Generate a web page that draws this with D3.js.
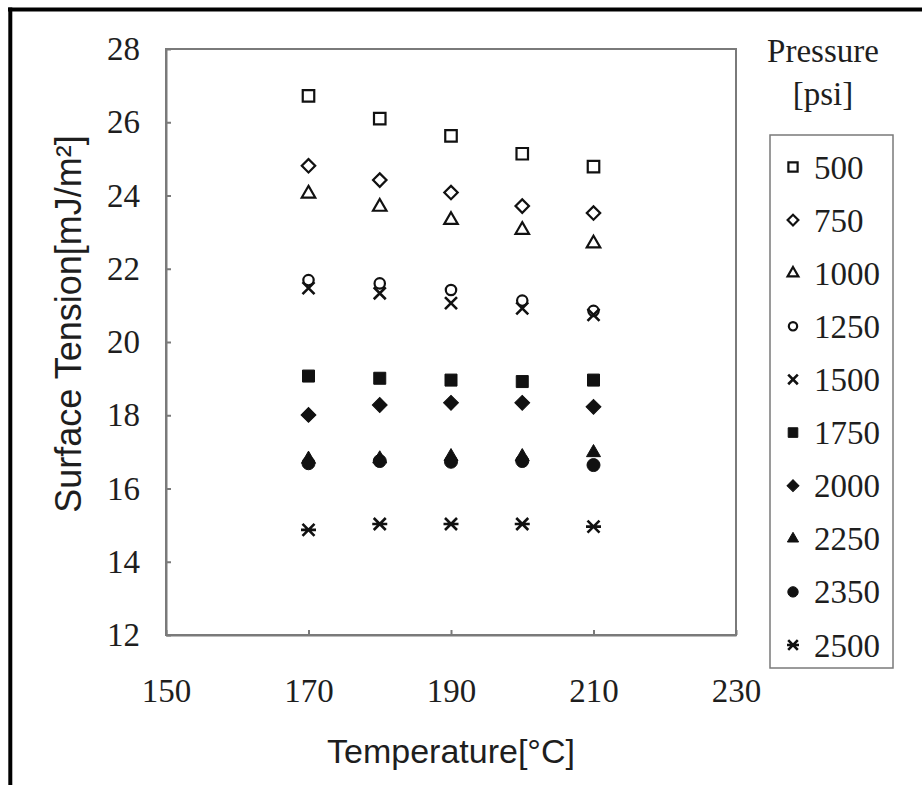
<!DOCTYPE html>
<html>
<head>
<meta charset="utf-8">
<script src="https://cdn.jsdelivr.net/npm/d3@7"></script>
<style>
	body { margin: 0; background: #fff; }
	svg { display: block; }
</style>
</head>
<body>
<script>
"use strict";

// Data
let temperatures = [170, 180, 190, 200, 210];
let pressures = [500, 750, 1000, 1250, 1500, 1750, 2000, 2250, 2350, 2500];

let tension500  = [26.72, 26.10, 25.63, 25.14, 24.79];
let tension750  = [24.81, 24.42, 24.08, 23.71, 23.52];
let tension1000 = [24.05, 23.69, 23.33, 23.06, 22.69];
let tension1250 = [21.69, 21.60, 21.42, 21.13, 20.85];
let tension1500 = [21.47, 21.33, 21.06, 20.92, 20.74];
let tension1750 = [19.07, 19.01, 18.96, 18.92, 18.96];
let tension2000 = [18.01, 18.28, 18.34, 18.34, 18.23];
let tension2250 = [16.80, 16.81, 16.87, 16.87, 16.98];
let tension2350 = [16.69, 16.75, 16.73, 16.75, 16.64];
let tension2500 = [14.87, 15.03, 15.03, 15.03, 14.96];

let xTicks = [150, 170, 190, 210, 230];
let yTicks = [12, 14, 16, 18, 20, 22, 24, 26, 28];

let markerKinds = ["square", "diamond", "triangle", "circle", "x",
	"squareFill", "diamondFill", "triangleFill", "circleFill", "star"];

let allTensions = [tension500, tension750, tension1000, tension1250, tension1500,
	tension1750, tension2000, tension2250, tension2350, tension2500];

let series = pressures.map(function (p, i) {
	return {
		pressure: p,
		kind: markerKinds[i],
		points: temperatures.map(function (t, j) { return {t: t, v: allTensions[i][j]}; })
	};
});

let width = 922, height = 785;
let plot = {left: 166, top: 49, right: 736, bottom: 635};

let svg = d3.select("body").append("svg")
	.attr("width", width)
	.attr("height", height);

svg.append("rect").attr("width", width).attr("height", height).attr("fill", "#fff");

// outer frame (only top and left show in the cropped figure)
svg.append("line").attr("x1", 8).attr("x2", width).attr("y1", 9.5).attr("y2", 9.5)
	.attr("stroke", "#000").attr("stroke-width", 4);
svg.append("line").attr("x1", 10.3).attr("x2", 10.3).attr("y1", 7.5).attr("y2", height)
	.attr("stroke", "#000").attr("stroke-width", 4);

let xScale = d3.scaleLinear().domain([150, 230]).range([plot.left, plot.right]);
let yScale = d3.scaleLinear().domain([12, 28]).range([plot.bottom, plot.top]);

let axisColor = "#7a7a7a";
let textColor = "#1e1e1e";
let serif = "'Liberation Serif', 'Times New Roman', serif";
let sans = "'Liberation Sans', Arial, sans-serif";

// plot frame
svg.append("rect")
	.attr("x", plot.left).attr("y", plot.top)
	.attr("width", plot.right - plot.left).attr("height", plot.bottom - plot.top)
	.attr("fill", "none").attr("stroke", axisColor).attr("stroke-width", 2);

let yAxis = svg.append("g")
	.attr("transform", "translate(" + plot.left + ",0)")
	.call(d3.axisLeft(yScale).tickValues(yTicks).tickSizeInner(-5).tickSizeOuter(0).tickPadding(26));

let xAxis = svg.append("g")
	.attr("transform", "translate(0," + plot.bottom + ")")
	.call(d3.axisBottom(xScale).tickValues(xTicks).tickSizeInner(-5).tickSizeOuter(0).tickPadding(44));

[xAxis, yAxis].forEach(function (ax) {
	ax.attr("font-family", serif);
	ax.select(".domain").attr("stroke", axisColor).attr("stroke-width", 2);
	ax.selectAll(".tick line").attr("stroke", axisColor).attr("stroke-width", 2);
	ax.selectAll(".tick text")
		.attr("fill", textColor)
		.style("font-family", serif)
		.style("font-size", "33px");
});
xAxis.selectAll(".tick text").attr("dy", "0.71em");

// axis titles
svg.append("text")
	.attr("x", 451).attr("y", 763)
	.attr("text-anchor", "middle")
	.style("font-family", sans).style("font-size", "34px").attr("fill", textColor)
	.text("Temperature[°C]");

svg.append("text")
	.attr("transform", "translate(81,324) rotate(-90)")
	.attr("text-anchor", "middle")
	.style("font-family", sans).style("font-size", "36px").attr("fill", textColor)
	.text("Surface Tension[mJ/m²]");

// marker drawing
function drawMarker(g, kind, s) {
	let sq = d3.symbol().type(d3.symbolSquare);
	let tri = d3.symbol().type(d3.symbolTriangle);
	let circ = d3.symbol().type(d3.symbolCircle);
	let hollow = {fill: "#fff", stroke: "#111", sw: 2.2};
	let filled = {fill: "#111", stroke: "#111", sw: 1};

	function style(sel, st) {
		return sel.attr("fill", st.fill).attr("stroke", st.stroke).attr("stroke-width", st.sw);
	}

	if (kind === "square") {
		style(g.append("path").attr("d", sq.size(Math.pow(11.5 * s, 2))()), hollow);
	} else if (kind === "squareFill") {
		style(g.append("path").attr("d", sq.size(Math.pow(12 * s, 2))()), filled);
	} else if (kind === "diamond") {
		style(g.append("path").attr("d", sq.size(Math.pow(9.5 * s, 2))()).attr("transform", "rotate(45)"), hollow);
	} else if (kind === "diamondFill") {
		style(g.append("path").attr("d", sq.size(Math.pow(10.5 * s, 2))()).attr("transform", "rotate(45)"), filled);
	} else if (kind === "triangle") {
		style(g.append("path").attr("d", tri.size(Math.sqrt(3) / 4 * Math.pow(13.5 * s, 2))()), hollow);
	} else if (kind === "triangleFill") {
		style(g.append("path").attr("d", tri.size(Math.sqrt(3) / 4 * Math.pow(14 * s, 2))()), filled);
	} else if (kind === "circle") {
		style(g.append("path").attr("d", circ.size(Math.PI * Math.pow(5.2 * s, 2))()), hollow);
	} else if (kind === "circleFill") {
		style(g.append("path").attr("d", circ.size(Math.PI * Math.pow(6.5 * s, 2))()), filled);
	} else if (kind === "x") {
		let a = 6 * s;
		g.append("path")
			.attr("d", "M" + -a + "," + -a + "L" + a + "," + a + "M" + -a + "," + a + "L" + a + "," + -a)
			.attr("stroke", "#111").attr("stroke-width", 2.6).attr("fill", "none");
	} else if (kind === "star") {
		let a = 6 * s, h = 7.5 * s;
		g.append("path")
			.attr("d", "M" + -a + "," + -a + "L" + a + "," + a + "M" + -a + "," + a + "L" + a + "," + -a +
				"M" + -h + ",0L" + h + ",0")
			.attr("stroke", "#111").attr("stroke-width", 2.6).attr("fill", "none");
	}
}

// points
let seriesGroups = svg.selectAll(".series")
	.data(series)
	.enter()
	.append("g")
	.attr("class", "series");

seriesGroups.each(function (d) {
	let grp = d3.select(this);
	grp.selectAll(".pt")
		.data(d.points)
		.enter()
		.append("g")
		.attr("class", "pt")
		.attr("transform", function (p) { return "translate(" + xScale(p.t) + "," + yScale(p.v) + ")"; })
		.each(function () { drawMarker(d3.select(this), d.kind, 1); });
});

// legend
let legend = svg.append("g").attr("class", "legend");

legend.append("text")
	.attr("x", 823).attr("y", 62).attr("text-anchor", "middle")
	.style("font-family", serif).style("font-size", "33px").attr("fill", textColor)
	.text("Pressure");
legend.append("text")
	.attr("x", 823).attr("y", 105).attr("text-anchor", "middle")
	.style("font-family", serif).style("font-size", "33px").attr("fill", textColor)
	.text("[psi]");

legend.append("rect")
	.attr("x", 770).attr("y", 135).attr("width", 123).attr("height", 533)
	.attr("fill", "#fff").attr("stroke", axisColor).attr("stroke-width", 1.5);

let legendY = d3.scaleLinear().domain([0, pressures.length - 1]).range([167, 645]);

let items = legend.selectAll(".item")
	.data(series)
	.enter()
	.append("g")
	.attr("class", "item")
	.attr("transform", function (d, i) { return "translate(0," + legendY(i) + ")"; });

items.each(function (d) {
	let it = d3.select(this);
	let m = it.append("g").attr("transform", "translate(793,0)");
	drawMarker(m, d.kind, 0.8);
	it.append("text")
		.attr("x", 814).attr("y", 0).attr("dy", "0.35em")
		.style("font-family", serif).style("font-size", "33px").attr("fill", textColor)
		.text(d.pressure);
});

console.log("");
</script>
</body>
</html>
